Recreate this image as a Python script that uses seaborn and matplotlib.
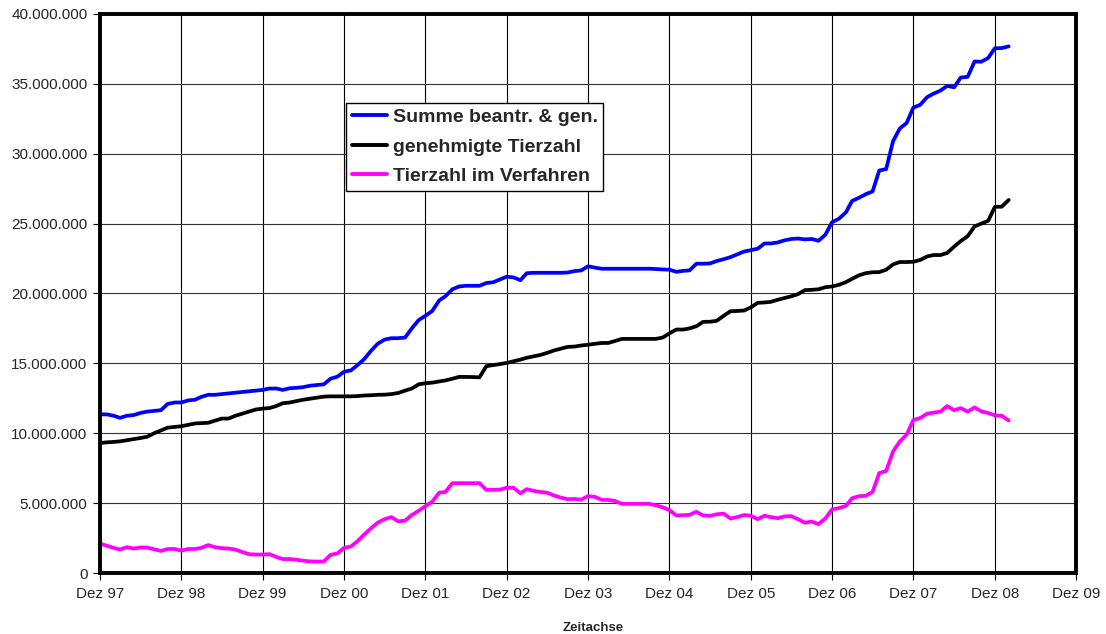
import matplotlib
matplotlib.use("Agg")
import matplotlib.pyplot as plt
from matplotlib.ticker import FuncFormatter
import seaborn as sns
import pandas as pd

# ---------------------------------------------------
# monthly values in millions, Dez 97 .. Feb 09
summe = [
    11.35, 11.35, 11.25, 11.1, 11.25, 11.3, 11.45, 11.55, 11.6, 11.65, 12.1, 12.2,
    12.2, 12.35, 12.4, 12.6, 12.75, 12.75, 12.8, 12.85, 12.9, 12.95, 13.0, 13.05,
    13.1, 13.2, 13.2, 13.1, 13.22, 13.25, 13.3, 13.4, 13.45, 13.5, 13.9, 14.05,
    14.4, 14.5, 14.9, 15.3, 15.9, 16.4, 16.7, 16.8, 16.8, 16.85, 17.5, 18.1,
    18.4, 18.75, 19.5, 19.8, 20.3, 20.5, 20.55, 20.55, 20.55, 20.75, 20.8, 21.0,
    21.2, 21.15, 20.95, 21.45, 21.48, 21.48, 21.48, 21.48, 21.48, 21.5, 21.6, 21.65,
    21.95, 21.85, 21.77, 21.77, 21.77, 21.77, 21.77, 21.77, 21.77, 21.77, 21.75, 21.72,
    21.7, 21.55, 21.62, 21.65, 22.13, 22.13, 22.15, 22.32, 22.45, 22.6, 22.8, 23.0,
    23.1, 23.2, 23.58, 23.58, 23.65, 23.8, 23.9, 23.93, 23.87, 23.9, 23.77, 24.2,
    25.1, 25.35, 25.8, 26.62, 26.85, 27.1, 27.3, 28.8, 28.9, 30.9, 31.8, 32.2,
    33.3, 33.5, 34.05, 34.3, 34.52, 34.85, 34.75, 35.45, 35.5, 36.6, 36.58, 36.85,
    37.54, 37.56, 37.68,
]
genehmigt = [
    9.3, 9.35, 9.38, 9.42, 9.5, 9.58, 9.66, 9.75, 10.0, 10.2, 10.4, 10.45,
    10.5, 10.6, 10.7, 10.72, 10.75, 10.9, 11.05, 11.05, 11.25, 11.4, 11.55, 11.7,
    11.76, 11.8, 11.95, 12.15, 12.2, 12.3, 12.4, 12.47, 12.55, 12.62, 12.64, 12.64,
    12.64, 12.64, 12.66, 12.7, 12.72, 12.75, 12.76, 12.8, 12.88, 13.05, 13.2, 13.5,
    13.58, 13.62, 13.7, 13.78, 13.9, 14.03, 14.03, 14.02, 14.0, 14.8, 14.87, 14.95,
    15.03, 15.15, 15.27, 15.4, 15.5, 15.6, 15.75, 15.92, 16.05, 16.18, 16.2, 16.28,
    16.33, 16.4, 16.46, 16.46, 16.6, 16.75, 16.75, 16.75, 16.75, 16.75, 16.75, 16.85,
    17.15, 17.42, 17.42, 17.5, 17.66, 17.97, 17.98, 18.04, 18.4, 18.73, 18.75, 18.78,
    19.0, 19.33, 19.36, 19.4, 19.55, 19.67, 19.8, 19.95, 20.24, 20.26, 20.3, 20.45,
    20.5, 20.62, 20.81, 21.05, 21.3, 21.45, 21.52, 21.53, 21.7, 22.08, 22.25, 22.25,
    22.27, 22.4, 22.65, 22.75, 22.75, 22.9, 23.35, 23.75, 24.1, 24.8, 25.0, 25.2,
    26.2, 26.21, 26.69,
]
verfahren = [
    2.1, 1.95, 1.8, 1.68, 1.85, 1.75, 1.83, 1.82, 1.7, 1.58, 1.72, 1.72,
    1.6, 1.72, 1.72, 1.8, 2.0, 1.85, 1.78, 1.75, 1.68, 1.5, 1.35, 1.32,
    1.32, 1.35, 1.15, 1.0, 1.0, 0.95, 0.88, 0.83, 0.82, 0.82, 1.3, 1.4,
    1.8, 1.9, 2.3, 2.75, 3.2, 3.6, 3.85, 4.0, 3.7, 3.75, 4.15, 4.45,
    4.78, 5.1, 5.75, 5.8, 6.43, 6.43, 6.43, 6.43, 6.43, 5.95, 5.95, 5.97,
    6.1, 6.1, 5.7, 6.0, 5.88, 5.8, 5.75, 5.55, 5.4, 5.28, 5.3, 5.25,
    5.5, 5.45, 5.23, 5.23, 5.15, 4.95, 4.95, 4.95, 4.95, 4.95, 4.85, 4.7,
    4.5, 4.12, 4.14, 4.16, 4.38, 4.12, 4.09, 4.2, 4.25, 3.9, 4.0, 4.15,
    4.1, 3.85, 4.1, 4.0, 3.92, 4.05, 4.07, 3.85, 3.6, 3.68, 3.5, 3.9,
    4.55, 4.65, 4.8, 5.35, 5.5, 5.52, 5.8, 7.15, 7.3, 8.7, 9.4, 9.9,
    10.95, 11.09, 11.4, 11.47, 11.55, 11.95, 11.65, 11.8, 11.55, 11.85, 11.57, 11.45,
    11.28, 11.25, 10.92,
]
series_names = ["Summe beantr. & gen.", "genehmigte Tierzahl", "Tierzahl im Verfahren"]
series_colors = ["#0000FF", "#000000", "#FF00FF"]

# ---------------------------------------------------
months = pd.date_range("1997-12-01", periods=len(summe), freq="MS")
frames = []
for name, vals in zip(series_names, [summe, genehmigt, verfahren]):
    frames.append(pd.DataFrame({"Monat": months, "Tiere": [v * 1e6 for v in vals], "Reihe": name}))
data = pd.concat(frames, ignore_index=True)

sns.set_style("white")
plt.rcParams["font.family"] = ["Liberation Sans", "DejaVu Sans"]

fig, ax = plt.subplots(figsize=(11.06, 6.34), dpi=100)
fig.subplots_adjust(left=0.0904, right=0.973, bottom=0.0962, top=0.978)

sns.lineplot(data=data, x="Monat", y="Tiere", hue="Reihe", hue_order=series_names,
             palette=series_colors, linewidth=2.7, ax=ax)

# ---------------------------------------------------
year_ticks = pd.date_range("1997-12-01", "2009-12-01", freq="12MS")
ax.set_xlim(year_ticks[0], year_ticks[-1])
ax.set_ylim(0, 40_000_000)
ax.set_xticks(year_ticks)
ax.set_xticklabels([f"Dez {d:%y}" for d in year_ticks], fontsize=11)
ax.set_yticks(range(0, 40_000_001, 5_000_000))
ax.yaxis.set_major_formatter(FuncFormatter(lambda v, p: f"{int(v):,}".replace(",", ".")))
ax.tick_params(axis="y", labelsize=11, length=5, width=0.8, color="black", direction="out", left=True, pad=4)
ax.tick_params(axis="x", labelsize=11, length=5, width=0.8, color="black", direction="out", bottom=True, pad=5)

ax.grid(True, axis="x", color="black", linewidth=0.8)
ax.grid(True, axis="y", color="#333333", linewidth=0.8)
for s in ax.spines.values():
    s.set_visible(True)
    s.set_color("black")
    s.set_linewidth(2.8)

ax.set_xlabel("Zeitachse", fontsize=9.5, fontweight="bold", labelpad=16)
ax.xaxis.set_label_coords(0.505, -0.088)
ax.set_ylabel("")

leg = ax.legend(loc="upper left", bbox_to_anchor=(0.252, 0.841), borderaxespad=0,
                prop={"weight": "bold", "size": 14}, frameon=True, fancybox=False,
                handlelength=1.8, handletextpad=0.3, labelspacing=0.6, borderpad=0.3)
leg.get_frame().set_edgecolor("black")
leg.get_frame().set_linewidth(1.0)
leg.get_frame().set_alpha(1)
for line in leg.get_lines():
    line.set_linewidth(2.8)

plt.savefig("out.png", dpi=100)
